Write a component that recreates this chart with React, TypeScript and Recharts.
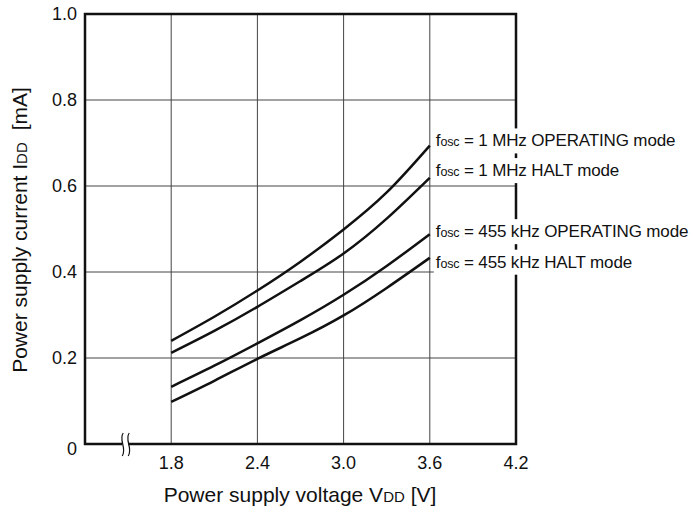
import React from 'react';
import { LineChart, Line, XAxis, YAxis, CartesianGrid, ReferenceArea, ReferenceDot } from 'recharts';

const VOLTAGE = [1.8, 2.1, 2.4, 2.7, 3.0, 3.3, 3.6];
const OP_1MHZ = [0.240, 0.296, 0.357, 0.424, 0.499, 0.585, 0.694];
const HALT_1MHZ = [0.212, 0.263, 0.319, 0.379, 0.443, 0.524, 0.619];
const OP_455K = [0.133, 0.182, 0.234, 0.288, 0.347, 0.414, 0.488];
const HALT_455K = [0.098, 0.147, 0.198, 0.246, 0.299, 0.363, 0.433];

const X_TICKS = [1.8, 2.4, 3.0, 3.6, 4.2];
const Y_TICKS = [0, 0.2, 0.4, 0.6, 0.8, 1.0];

const SERIES = [
  { key: 'op1', values: OP_1MHZ, freq: '1 MHz', mode: 'OPERATING mode', labelY: 0.706 },
  { key: 'halt1', values: HALT_1MHZ, freq: '1 MHz', mode: 'HALT mode', labelY: 0.637 },
  { key: 'op455', values: OP_455K, freq: '455 kHz', mode: 'OPERATING mode', labelY: 0.495 },
  { key: 'halt455', values: HALT_455K, freq: '455 kHz', mode: 'HALT mode', labelY: 0.424 },
];

const data = VOLTAGE.map((v, i) => {
  const row: Record<string, number> = { v };
  SERIES.forEach((s) => { row[s.key] = s.values[i]; });
  return row;
});

const FONT = '"Liberation Sans", Arial, Helvetica, sans-serif';

const YTick = ({ x, y, payload }: any) => (
  <text x={x} y={y + (payload.value === 0 ? 5 : 0)} textAnchor="end" dominantBaseline="central"
    fontSize={18} fontFamily={FONT} fill="#111">
    {payload.value === 0 ? '0' : payload.value.toFixed(1)}
  </text>
);

const XTick = ({ x, y, payload }: any) => (
  <text x={x} y={y + 25} textAnchor="middle" fontSize={18} fontFamily={FONT} fill="#111">
    {payload.value.toFixed(1)}
  </text>
);

const SeriesLabel = (freq: string, mode: string) => (props: any) => {
  const { cx, cy } = props;
  return (
    <g>
      <rect x={cx + 4} y={cy - 12} width={260} height={25} fill="#fff" />
      <text x={cx + 6} y={cy + 6} fontSize={17} letterSpacing={-0.15} fontFamily={FONT} fill="#111">
        f<tspan fontSize={12.5}>osc</tspan> = {freq} {mode}
      </text>
    </g>
  );
};

const AxisBreak = (props: any) => {
  const { cx, cy } = props;
  return (
    <g>
      <rect x={cx - 3} y={cy - 3} width={6} height={6} fill="#fff" />
      <path d={`M${cx - 2} ${cy - 11} C${cx - 7} ${cy - 4}, ${cx + 2} ${cy + 4}, ${cx - 3} ${cy + 12}`} stroke="#111" strokeWidth={1.2} fill="none" />
      <path d={`M${cx + 4} ${cy - 11} C${cx - 1} ${cy - 4}, ${cx + 8} ${cy + 4}, ${cx + 3} ${cy + 12}`} stroke="#111" strokeWidth={1.2} fill="none" />
    </g>
  );
};

export default function App() {
  return (
    <div style={{ width: 693, height: 513, background: '#fff', position: 'relative' }}>
      <style>{'body{margin:0;background:#fff}'}</style>
      <LineChart width={693} height={513} data={data} margin={{ top: 14, right: 177, bottom: 0, left: 0 }}>
        <CartesianGrid stroke="#444" strokeWidth={1} />
        <XAxis dataKey="v" type="number" domain={[1.2, 4.2]} ticks={X_TICKS} height={69}
          tick={<XTick />} tickLine={false} axisLine={false} tickSize={0} tickMargin={0} />
        <YAxis type="number" domain={[0, 1]} ticks={Y_TICKS} width={85}
          tick={<YTick />} tickLine={false} axisLine={false} tickSize={0} tickMargin={8} />
        <ReferenceArea x1={1.2} x2={4.2} y1={0} y2={1} fill="none" stroke="#111" strokeWidth={2.5} ifOverflow="visible" />
        {SERIES.map((s) => (
          <Line key={s.key} dataKey={s.key} type="natural" stroke="#111" strokeWidth={2.5}
            dot={false} isAnimationActive={false} />
        ))}
        {SERIES.map((s) => (
          <ReferenceDot key={`lbl-${s.key}`} x={3.6} y={s.labelY} ifOverflow="visible" shape={SeriesLabel(s.freq, s.mode)} />
        ))}
        <ReferenceDot x={1.48} y={0} ifOverflow="visible" shape={AxisBreak} />
      </LineChart>
      <svg width={693} height={513} style={{ position: 'absolute', left: 0, top: 0, pointerEvents: 'none' }}>
        <text x={300} y={502} textAnchor="middle" fontSize={21} fontFamily={FONT} fill="#111">
          Power supply voltage V<tspan fontSize={15}>DD</tspan> [V]
        </text>
        <text transform="translate(27,230) rotate(-90)" textAnchor="middle" fontSize={21} fontFamily={FONT} fill="#111">
          Power supply current I<tspan fontSize={15}>DD</tspan><tspan dx={6}> [mA]</tspan>
        </text>
      </svg>
    </div>
  );
}
